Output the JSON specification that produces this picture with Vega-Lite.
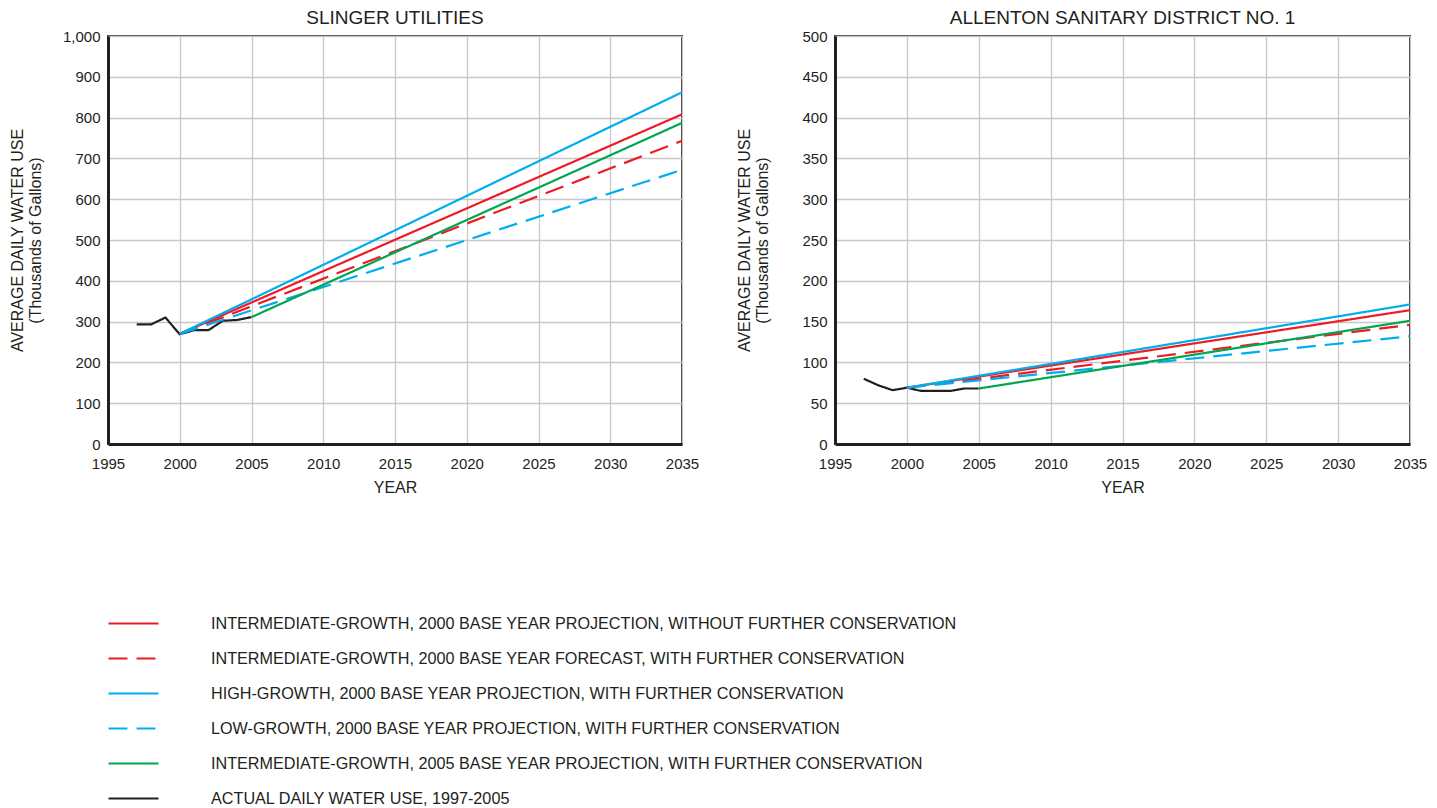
{
  "$schema": "https://vega.github.io/schema/vega-lite/v6.json",
  "background": "white",
  "padding": {"left": 8, "top": 8, "right": 5, "bottom": 0},
  "datasets": {
    "d": [
      {"site": "SLINGER", "series": "ACTUAL DAILY WATER USE, 1997-2005", "year": 1997, "value": 293},
      {"site": "SLINGER", "series": "ACTUAL DAILY WATER USE, 1997-2005", "year": 1998, "value": 293},
      {"site": "SLINGER", "series": "ACTUAL DAILY WATER USE, 1997-2005", "year": 1999, "value": 310},
      {"site": "SLINGER", "series": "ACTUAL DAILY WATER USE, 1997-2005", "year": 2000, "value": 269},
      {"site": "SLINGER", "series": "ACTUAL DAILY WATER USE, 1997-2005", "year": 2001, "value": 279},
      {"site": "SLINGER", "series": "ACTUAL DAILY WATER USE, 1997-2005", "year": 2002, "value": 279},
      {"site": "SLINGER", "series": "ACTUAL DAILY WATER USE, 1997-2005", "year": 2003, "value": 302},
      {"site": "SLINGER", "series": "ACTUAL DAILY WATER USE, 1997-2005", "year": 2004, "value": 304},
      {"site": "SLINGER", "series": "ACTUAL DAILY WATER USE, 1997-2005", "year": 2005, "value": 311},
      {"site": "SLINGER", "series": "INTERMEDIATE-GROWTH, 2000 BASE YEAR PROJECTION, WITHOUT FURTHER CONSERVATION", "year": 2000, "value": 270},
      {"site": "SLINGER", "series": "INTERMEDIATE-GROWTH, 2000 BASE YEAR PROJECTION, WITHOUT FURTHER CONSERVATION", "year": 2035, "value": 808},
      {"site": "SLINGER", "series": "INTERMEDIATE-GROWTH, 2000 BASE YEAR FORECAST, WITH FURTHER CONSERVATION", "year": 2000, "value": 270},
      {"site": "SLINGER", "series": "INTERMEDIATE-GROWTH, 2000 BASE YEAR FORECAST, WITH FURTHER CONSERVATION", "year": 2035, "value": 743},
      {"site": "SLINGER", "series": "HIGH-GROWTH, 2000 BASE YEAR PROJECTION, WITH FURTHER CONSERVATION", "year": 2000, "value": 270},
      {"site": "SLINGER", "series": "HIGH-GROWTH, 2000 BASE YEAR PROJECTION, WITH FURTHER CONSERVATION", "year": 2035, "value": 862},
      {"site": "SLINGER", "series": "LOW-GROWTH, 2000 BASE YEAR PROJECTION, WITH FURTHER CONSERVATION", "year": 2000, "value": 270},
      {"site": "SLINGER", "series": "LOW-GROWTH, 2000 BASE YEAR PROJECTION, WITH FURTHER CONSERVATION", "year": 2035, "value": 672},
      {"site": "SLINGER", "series": "INTERMEDIATE-GROWTH, 2005 BASE YEAR PROJECTION, WITH FURTHER CONSERVATION", "year": 2005, "value": 311},
      {"site": "SLINGER", "series": "INTERMEDIATE-GROWTH, 2005 BASE YEAR PROJECTION, WITH FURTHER CONSERVATION", "year": 2035, "value": 787},
      {"site": "ALLENTON", "series": "ACTUAL DAILY WATER USE, 1997-2005", "year": 1997, "value": 80},
      {"site": "ALLENTON", "series": "ACTUAL DAILY WATER USE, 1997-2005", "year": 1998, "value": 72},
      {"site": "ALLENTON", "series": "ACTUAL DAILY WATER USE, 1997-2005", "year": 1999, "value": 66},
      {"site": "ALLENTON", "series": "ACTUAL DAILY WATER USE, 1997-2005", "year": 2000, "value": 69},
      {"site": "ALLENTON", "series": "ACTUAL DAILY WATER USE, 1997-2005", "year": 2001, "value": 65},
      {"site": "ALLENTON", "series": "ACTUAL DAILY WATER USE, 1997-2005", "year": 2002, "value": 65},
      {"site": "ALLENTON", "series": "ACTUAL DAILY WATER USE, 1997-2005", "year": 2003, "value": 65},
      {"site": "ALLENTON", "series": "ACTUAL DAILY WATER USE, 1997-2005", "year": 2004, "value": 68},
      {"site": "ALLENTON", "series": "ACTUAL DAILY WATER USE, 1997-2005", "year": 2005, "value": 68},
      {"site": "ALLENTON", "series": "INTERMEDIATE-GROWTH, 2000 BASE YEAR PROJECTION, WITHOUT FURTHER CONSERVATION", "year": 2000, "value": 69},
      {"site": "ALLENTON", "series": "INTERMEDIATE-GROWTH, 2000 BASE YEAR PROJECTION, WITHOUT FURTHER CONSERVATION", "year": 2035, "value": 164},
      {"site": "ALLENTON", "series": "INTERMEDIATE-GROWTH, 2000 BASE YEAR FORECAST, WITH FURTHER CONSERVATION", "year": 2000, "value": 69},
      {"site": "ALLENTON", "series": "INTERMEDIATE-GROWTH, 2000 BASE YEAR FORECAST, WITH FURTHER CONSERVATION", "year": 2035, "value": 146},
      {"site": "ALLENTON", "series": "HIGH-GROWTH, 2000 BASE YEAR PROJECTION, WITH FURTHER CONSERVATION", "year": 2000, "value": 69},
      {"site": "ALLENTON", "series": "HIGH-GROWTH, 2000 BASE YEAR PROJECTION, WITH FURTHER CONSERVATION", "year": 2035, "value": 171},
      {"site": "ALLENTON", "series": "LOW-GROWTH, 2000 BASE YEAR PROJECTION, WITH FURTHER CONSERVATION", "year": 2000, "value": 69},
      {"site": "ALLENTON", "series": "LOW-GROWTH, 2000 BASE YEAR PROJECTION, WITH FURTHER CONSERVATION", "year": 2035, "value": 132},
      {"site": "ALLENTON", "series": "INTERMEDIATE-GROWTH, 2005 BASE YEAR PROJECTION, WITH FURTHER CONSERVATION", "year": 2005, "value": 68},
      {"site": "ALLENTON", "series": "INTERMEDIATE-GROWTH, 2005 BASE YEAR PROJECTION, WITH FURTHER CONSERVATION", "year": 2035, "value": 151}
    ]
  },
  "data": {"name": "d"},
  "spacing": 153,
  "bounds": "flush",
  "resolve": {"scale": {"y": "independent", "color": "shared", "strokeDash": "shared"}},
  "hconcat": [
    {
      "title": {"text": "SLINGER UTILITIES"},
      "width": 574,
      "height": 408,
      "transform": [{"filter": "datum.site === 'SLINGER'"}],
      "mark": {"type": "line", "strokeWidth": 2.2, "clip": true},
      "encoding": {
        "x": {"field": "year", "type": "quantitative", "scale": {"domain": [1995, 2035], "nice": false, "zero": false},
              "axis": {"values": [1995, 2000, 2005, 2010, 2015, 2020, 2025, 2030, 2035], "format": "d", "title": "YEAR"}},
        "y": {"field": "value", "type": "quantitative", "scale": {"domain": [0, 1000], "nice": false},
              "axis": {"values": [0, 100, 200, 300, 400, 500, 600, 700, 800, 900, 1000], "format": ",d", "title": ["AVERAGE DAILY WATER USE", "(Thousands of Gallons)"]}},
        "color": {"field": "series", "type": "nominal",
          "scale": {"domain": ["INTERMEDIATE-GROWTH, 2000 BASE YEAR PROJECTION, WITHOUT FURTHER CONSERVATION", "INTERMEDIATE-GROWTH, 2000 BASE YEAR FORECAST, WITH FURTHER CONSERVATION", "HIGH-GROWTH, 2000 BASE YEAR PROJECTION, WITH FURTHER CONSERVATION", "LOW-GROWTH, 2000 BASE YEAR PROJECTION, WITH FURTHER CONSERVATION", "INTERMEDIATE-GROWTH, 2005 BASE YEAR PROJECTION, WITH FURTHER CONSERVATION", "ACTUAL DAILY WATER USE, 1997-2005"],
                    "range": ["#ed1c24", "#ed1c24", "#00aeef", "#00aeef", "#00a651", "#231f20"]},
          "legend": {"title": null}},
        "strokeDash": {"field": "series", "type": "nominal",
          "scale": {"domain": ["INTERMEDIATE-GROWTH, 2000 BASE YEAR PROJECTION, WITHOUT FURTHER CONSERVATION", "INTERMEDIATE-GROWTH, 2000 BASE YEAR FORECAST, WITH FURTHER CONSERVATION", "HIGH-GROWTH, 2000 BASE YEAR PROJECTION, WITH FURTHER CONSERVATION", "LOW-GROWTH, 2000 BASE YEAR PROJECTION, WITH FURTHER CONSERVATION", "INTERMEDIATE-GROWTH, 2005 BASE YEAR PROJECTION, WITH FURTHER CONSERVATION", "ACTUAL DAILY WATER USE, 1997-2005"],
                    "range": [[1, 0], [19, 9], [1, 0], [19, 9], [1, 0], [1, 0]]},
          "legend": {"title": null}}
      }
    },
    {
      "title": {"text": "ALLENTON SANITARY DISTRICT NO. 1"},
      "width": 575,
      "height": 408,
      "transform": [{"filter": "datum.site === 'ALLENTON'"}],
      "mark": {"type": "line", "strokeWidth": 2.2, "clip": true},
      "encoding": {
        "x": {"field": "year", "type": "quantitative", "scale": {"domain": [1995, 2035], "nice": false, "zero": false},
              "axis": {"values": [1995, 2000, 2005, 2010, 2015, 2020, 2025, 2030, 2035], "format": "d", "title": "YEAR"}},
        "y": {"field": "value", "type": "quantitative", "scale": {"domain": [0, 500], "nice": false},
              "axis": {"values": [0, 50, 100, 150, 200, 250, 300, 350, 400, 450, 500], "format": ",d", "title": ["AVERAGE DAILY WATER USE", "(Thousands of Gallons)"]}},
        "color": {"field": "series", "type": "nominal", "legend": {"title": null}},
        "strokeDash": {"field": "series", "type": "nominal", "legend": {"title": null}}
      }
    }
  ],
  "config": {
    "font": "Liberation Sans",
    "view": {"stroke": "#3a3a3a", "strokeWidth": 2},
    "title": {"fontSize": 19, "fontWeight": "normal", "color": "#231f20", "anchor": "middle", "offset": 1},
    "axis": {
      "labelFontSize": 15, "labelColor": "#231f20", "titleFontSize": 16, "titleFontWeight": "normal", "titleColor": "#231f20",
      "grid": true, "gridColor": "#c8c8c8", "gridWidth": 1.3, "ticks": false,
      "domainColor": "#231f20", "domainWidth": 3
    },
    "axisX": {"labelPadding": 12, "labelDx": -5, "labelFlush": false, "titlePadding": 8},
    "axisY": {"labelPadding": 8, "titleX": -83, "titleY": 204},
    "legend": {
      "orient": "none", "legendX": -1, "legendY": 561, "direction": "vertical",
      "symbolType": "stroke", "symbolSize": 2500, "symbolStrokeWidth": 2.2,
      "labelFontSize": 16.2, "labelColor": "#231f20", "labelOffset": 51, "labelLimit": 1000,
      "rowPadding": 0
    }
  }
}
